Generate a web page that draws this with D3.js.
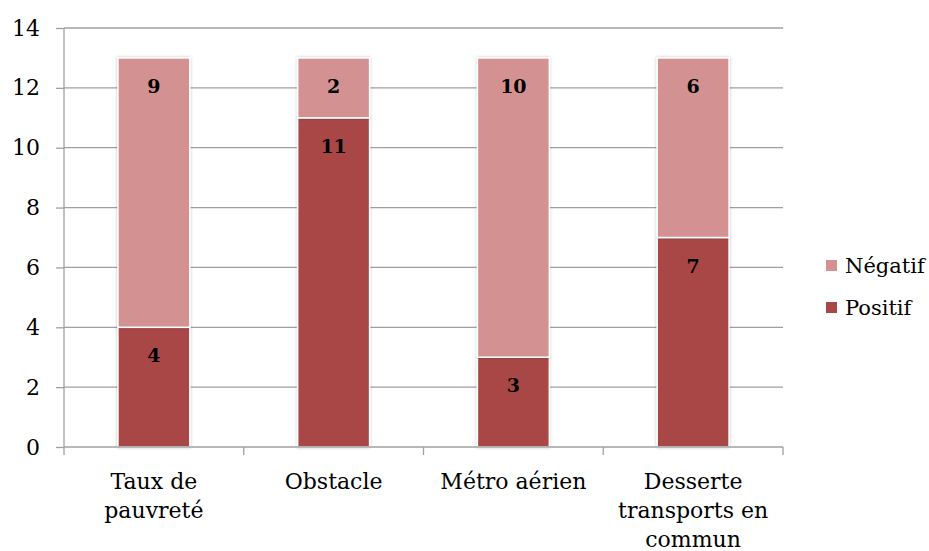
<!DOCTYPE html>
<html><head><meta charset="utf-8">
<script src="https://cdn.jsdelivr.net/npm/d3@7"></script>
<style>body{margin:0;background:#fff}svg{display:block}</style>
</head><body>
<svg id="c" width="929" height="551"></svg>
<script>
const categories = [["Taux de","pauvreté"],["Obstacle"],["Métro aérien"],["Desserte","transports en","commun"]];
const categoryKeys = ["Taux de pauvreté","Obstacle","Métro aérien","Desserte transports en commun"];
const positif = [4, 11, 3, 7];
const negatif = [9, 2, 10, 6];
const yTicks = [0,2,4,6,8,10,12,14];
const seriesNames = ["Positif","Négatif"];
const colors = {"Positif":"#A94747","Négatif":"#D39191"};

const svg = d3.select("#c");
const font = "'DejaVu Serif', serif";
const pL = 64, pR = 783, pT = 28, pB = 447;
const x = d3.scaleBand().domain(categoryKeys).range([pL,pR]).paddingInner(0.6).paddingOuter(0.3);
const xb = d3.scaleBand().domain(categoryKeys).range([pL,pR]);
const y = d3.scaleLinear().domain([0,14]).range([pB,pT]);

// gridlines
svg.append("g").selectAll("line").data(yTicks.filter(d=>d>0)).join("line")
  .attr("x1",pL).attr("x2",pR).attr("y1",d=>y(d)).attr("y2",d=>y(d))
  .attr("stroke","#A0A0A0").attr("stroke-width",1.3);

// y axis
const ya = svg.append("g").attr("transform",`translate(${pL},0)`)
  .call(d3.axisLeft(y).tickValues(yTicks).tickSize(8).tickPadding(16));
ya.select(".domain").attr("stroke","#A0A0A0").attr("stroke-width",1.3).attr("d",`M0,${pT}V${pB}`);
ya.selectAll(".tick line").attr("stroke","#A0A0A0").attr("stroke-width",1.3);
ya.selectAll(".tick text").attr("font-family",font).attr("font-size",22).attr("fill","#000");

// stacked data
const rows = categoryKeys.map((k,i)=>({key:k,"Positif":positif[i],"Négatif":negatif[i]}));
const stack = d3.stack().keys(seriesNames)(rows);

const defs = svg.append("defs");
const f = defs.append("filter").attr("id","sh").attr("x","-20%").attr("y","-20%").attr("width","140%").attr("height","140%");
f.append("feGaussianBlur").attr("in","SourceAlpha").attr("stdDeviation",1.5).attr("result","b");
f.append("feFlood").attr("flood-color","#000").attr("flood-opacity",0.25);
f.append("feComposite").attr("in2","b").attr("operator","in").attr("result","s");
const m = f.append("feMerge"); m.append("feMergeNode").attr("in","s"); m.append("feMergeNode").attr("in","SourceGraphic");

const bars = svg.append("g");
stack.forEach(s=>{
  bars.append("g").selectAll("rect").data(s).join("rect")
    .attr("x",d=>x(d.data.key)).attr("width",x.bandwidth())
    .attr("y",d=>y(d[1])).attr("height",d=>y(d[0])-y(d[1]))
    .attr("fill",colors[s.key]).attr("stroke","#fff").attr("stroke-width",1.5)
    .attr("filter","url(#sh)");
});
stack.forEach(s=>{
  bars.append("g").selectAll("text").data(s).join("text")
    .attr("x",d=>x(d.data.key)+x.bandwidth()/2).attr("y",d=>y(d[1])+35)
    .attr("text-anchor","middle").attr("font-family",font).attr("font-weight","bold")
    .attr("font-size",19).attr("fill","#000").text(d=>d[1]-d[0]);
});

// x axis
svg.append("line").attr("x1",pL).attr("x2",pR).attr("y1",pB).attr("y2",pB)
  .attr("stroke","#A0A0A0").attr("stroke-width",1.3);
const bounds = categoryKeys.map(k=>xb(k)).concat([pR]);
svg.append("g").selectAll("line").data(bounds).join("line")
  .attr("x1",d=>d).attr("x2",d=>d).attr("y1",pB).attr("y2",pB+8)
  .attr("stroke","#A0A0A0").attr("stroke-width",1.3);
const xl = svg.append("g").selectAll("text").data(categoryKeys).join("text")
  .attr("font-family",font).attr("font-size",22).attr("fill","#000").attr("text-anchor","middle");
xl.each(function(k,i){
  const t = d3.select(this);
  categories[i].forEach((line,j)=>{
    t.append("tspan").attr("x",xb(k)+xb.bandwidth()/2).attr("y",489+j*29).text(line);
  });
});

// legend
const leg = svg.append("g");
const legItems = ["Négatif","Positif"];
leg.selectAll("rect").data(legItems).join("rect")
  .attr("x",826).attr("y",(d,i)=>260+i*42).attr("width",11).attr("height",11).attr("fill",d=>colors[d]);
leg.selectAll("text").data(legItems).join("text")
  .attr("x",845).attr("y",(d,i)=>273+i*42).attr("font-family",font).attr("font-size",21).attr("fill","#000").text(d=>d);
</script>
</body></html>
